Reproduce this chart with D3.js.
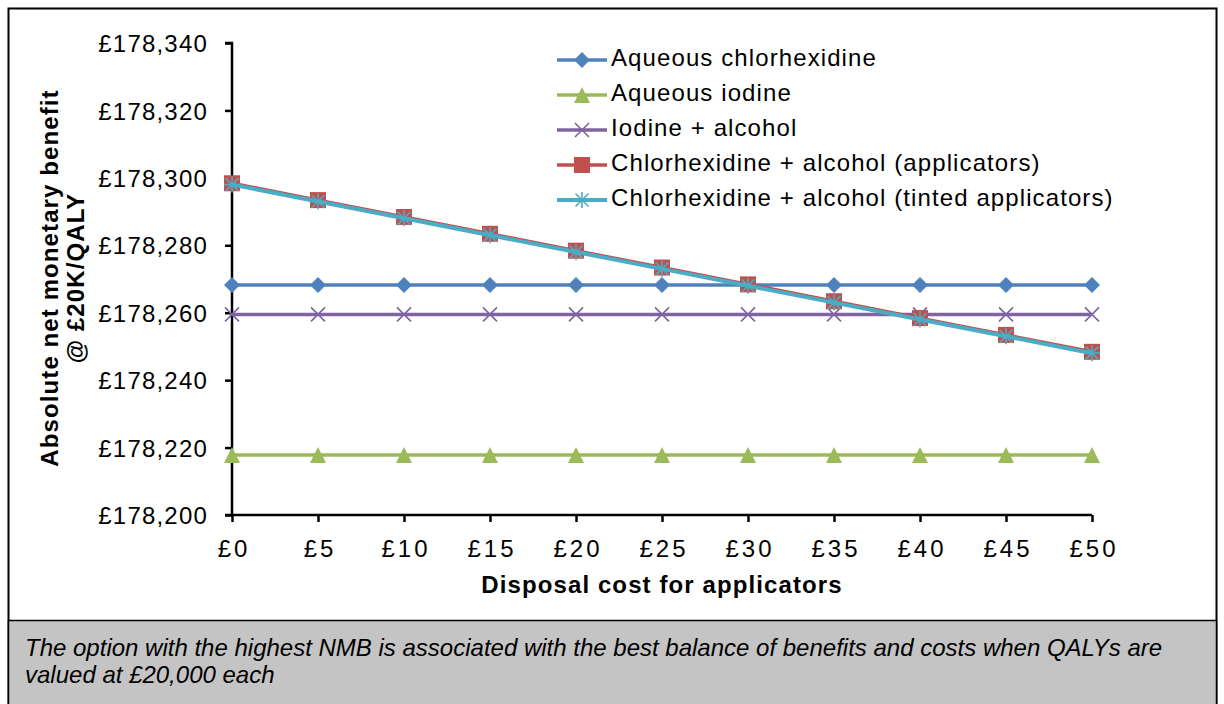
<!DOCTYPE html>
<html><head><meta charset="utf-8">
<script src="https://cdn.jsdelivr.net/npm/d3@7"></script>
<style>
body{margin:0;background:#fff;}
svg{display:block;font-family:Arial,"Liberation Sans",sans-serif;}
</style></head>
<body><svg id="c" width="1224" height="704"></svg>
<script>
const costs = [0,5,10,15,20,25,30,35,40,45,50];
const xTickLabels = ["£0","£5","£10","£15","£20","£25","£30","£35","£40","£45","£50"];
const yTicks = [178200,178220,178240,178260,178280,178300,178320,178340];
const seriesNames = ["Aqueous chlorhexidine","Aqueous iodine","Iodine + alcohol","Chlorhexidine + alcohol (applicators)","Chlorhexidine + alcohol (tinted applicators)"];
const aqueousChlorhexidine = [178268.2,178268.2,178268.2,178268.2,178268.2,178268.2,178268.2,178268.2,178268.2,178268.2,178268.2];
const aqueousIodine = [178217.8,178217.8,178217.8,178217.8,178217.8,178217.8,178217.8,178217.8,178217.8,178217.8,178217.8];
const iodineAlcohol = [178259.5,178259.5,178259.5,178259.5,178259.5,178259.5,178259.5,178259.5,178259.5,178259.5,178259.5];
const chxApplicators = [178298.4,178293.4,178288.4,178283.4,178278.4,178273.4,178268.4,178263.4,178258.4,178253.4,178248.4];
const chxTinted = [178298.0,178293.0,178288.0,178283.0,178278.0,178273.0,178268.0,178263.0,178258.0,178253.0,178248.0];
const colors = ["#4F81BD","#9BBB59","#8064A2","#C0504D","#4BACC6"];
const markers = ["diamond","triangle","x","square","star"];
const widths = [3.5,3.5,3.5,3.5,4];
const allSeries = [aqueousChlorhexidine,aqueousIodine,iodineAlcohol,chxApplicators,chxTinted];

const FONT = "Arial,'Liberation Sans',sans-serif";
const svg = d3.select("#c");
// frame
svg.append("rect").attr("x",8.5).attr("y",8.5).attr("width",1208).attr("height",700).attr("fill","#fff").attr("stroke","#000").attr("stroke-width",2);
svg.append("rect").attr("x",8.5).attr("y",620.5).attr("width",1208).attr("height",90).attr("fill","#C4C4C4").attr("stroke","#000").attr("stroke-width",1.5);

const x = d3.scaleLinear().domain([0,50]).range([232,1092]);
const y = d3.scaleLinear().domain([178200,178340]).range([515,43]);

// y axis
const ya = svg.append("g").attr("transform","translate(232,0)")
  .call(d3.axisLeft(y).tickValues(yTicks).tickSize(7).tickFormat(d=>"£"+d3.format(",")(d)));
ya.select(".domain").attr("stroke","#000").attr("stroke-width",2.5).attr("d","M-7,43H0V515H-7");
ya.selectAll(".tick line").attr("stroke","#000").attr("stroke-width",2.5);
ya.selectAll(".tick text").attr("font-size",24).attr("letter-spacing","1.2px").attr("fill","#000").attr("x",-24).attr("dy","0.36em").attr("font-family",FONT);

// x axis
const xa = svg.append("g").attr("transform","translate(0,515)")
  .call(d3.axisBottom(x).tickValues(costs).tickSize(7).tickFormat((d,i)=>xTickLabels[i]));
xa.select(".domain").attr("stroke","#000").attr("stroke-width",2.5).attr("d","M232,0H1092");
xa.selectAll(".tick line").attr("stroke","#000").attr("stroke-width",2.5);
xa.selectAll(".tick text").attr("font-size",24).attr("fill","#000").attr("y",42).attr("dy","0").attr("dx","1.5px").attr("letter-spacing","3px").attr("font-family",FONT);

// titles
svg.append("text").attr("x",662).attr("y",593).attr("text-anchor","middle").attr("font-size",24).attr("letter-spacing","1.1px").attr("font-weight","bold").text("Disposal cost for applicators");
const yt = svg.append("text").attr("transform","translate(0,278) rotate(-90)").attr("text-anchor","middle").attr("font-size",24).attr("letter-spacing","1.1px").attr("font-weight","bold");
yt.append("tspan").attr("x",0).attr("y",58).text("Absolute net monetary benefit");
yt.append("tspan").attr("x",0).attr("y",84).text("@ £20K/QALY");

function drawMarker(g, type, cx, cy, color){
  if(type==="diamond"){
    g.append("path").attr("d",`M${cx},${cy-8}L${cx+8},${cy}L${cx},${cy+8}L${cx-8},${cy}Z`).attr("fill",color);
  } else if(type==="triangle"){
    g.append("path").attr("d",`M${cx},${cy-8}L${cx+8},${cy+8}L${cx-8},${cy+8}Z`).attr("fill",color);
  } else if(type==="x"){
    g.append("path").attr("d",`M${cx-7},${cy-7}L${cx+7},${cy+7}M${cx-7},${cy+7}L${cx+7},${cy-7}`).attr("stroke",color).attr("stroke-width",1.6).attr("fill","none");
  } else if(type==="square"){
    g.append("rect").attr("x",cx-8).attr("y",cy-8).attr("width",16).attr("height",16).attr("fill",color);
  } else if(type==="star"){
    g.append("path").attr("d",`M${cx-6.5},${cy-6.5}L${cx+6.5},${cy+6.5}M${cx-6.5},${cy+6.5}L${cx+6.5},${cy-6.5}M${cx},${cy-8}L${cx},${cy+8}M${cx-8},${cy}L${cx+8},${cy}`).attr("stroke",color).attr("stroke-width",1.6).attr("fill","none");
  }
}

const line = d3.line().x((d,i)=>x(costs[i])).y(d=>y(d));
const order = [1,2,0,3,4];
order.forEach(s=>{
  const g = svg.append("g");
  g.append("path").datum(allSeries[s]).attr("d",line).attr("fill","none").attr("stroke",colors[s]).attr("stroke-width",widths[s]);
  allSeries[s].forEach((v,i)=>drawMarker(g,markers[s],x(costs[i]),y(v),colors[s]));
});

// legend
const legY = [60,95,130,165,200];
seriesNames.forEach((n,i)=>{
  const g = svg.append("g");
  g.append("line").attr("x1",557).attr("x2",607).attr("y1",legY[i]).attr("y2",legY[i]).attr("stroke",colors[i]).attr("stroke-width",widths[i]);
  drawMarker(g,markers[i],582,legY[i],colors[i]);
  g.append("text").attr("x",611).attr("y",legY[i]+6).attr("font-size",24).attr("letter-spacing","1.1px").attr("fill","#000").text(n);
});

// caption
const cap = svg.append("text").attr("font-size",24).attr("font-style","italic").attr("fill","#000");
cap.append("tspan").attr("x",25).attr("y",656).text("The option with the highest NMB is associated with the best balance of benefits and costs when QALYs are");
cap.append("tspan").attr("x",25).attr("y",683).text("valued at £20,000 each");
</script></body></html>
